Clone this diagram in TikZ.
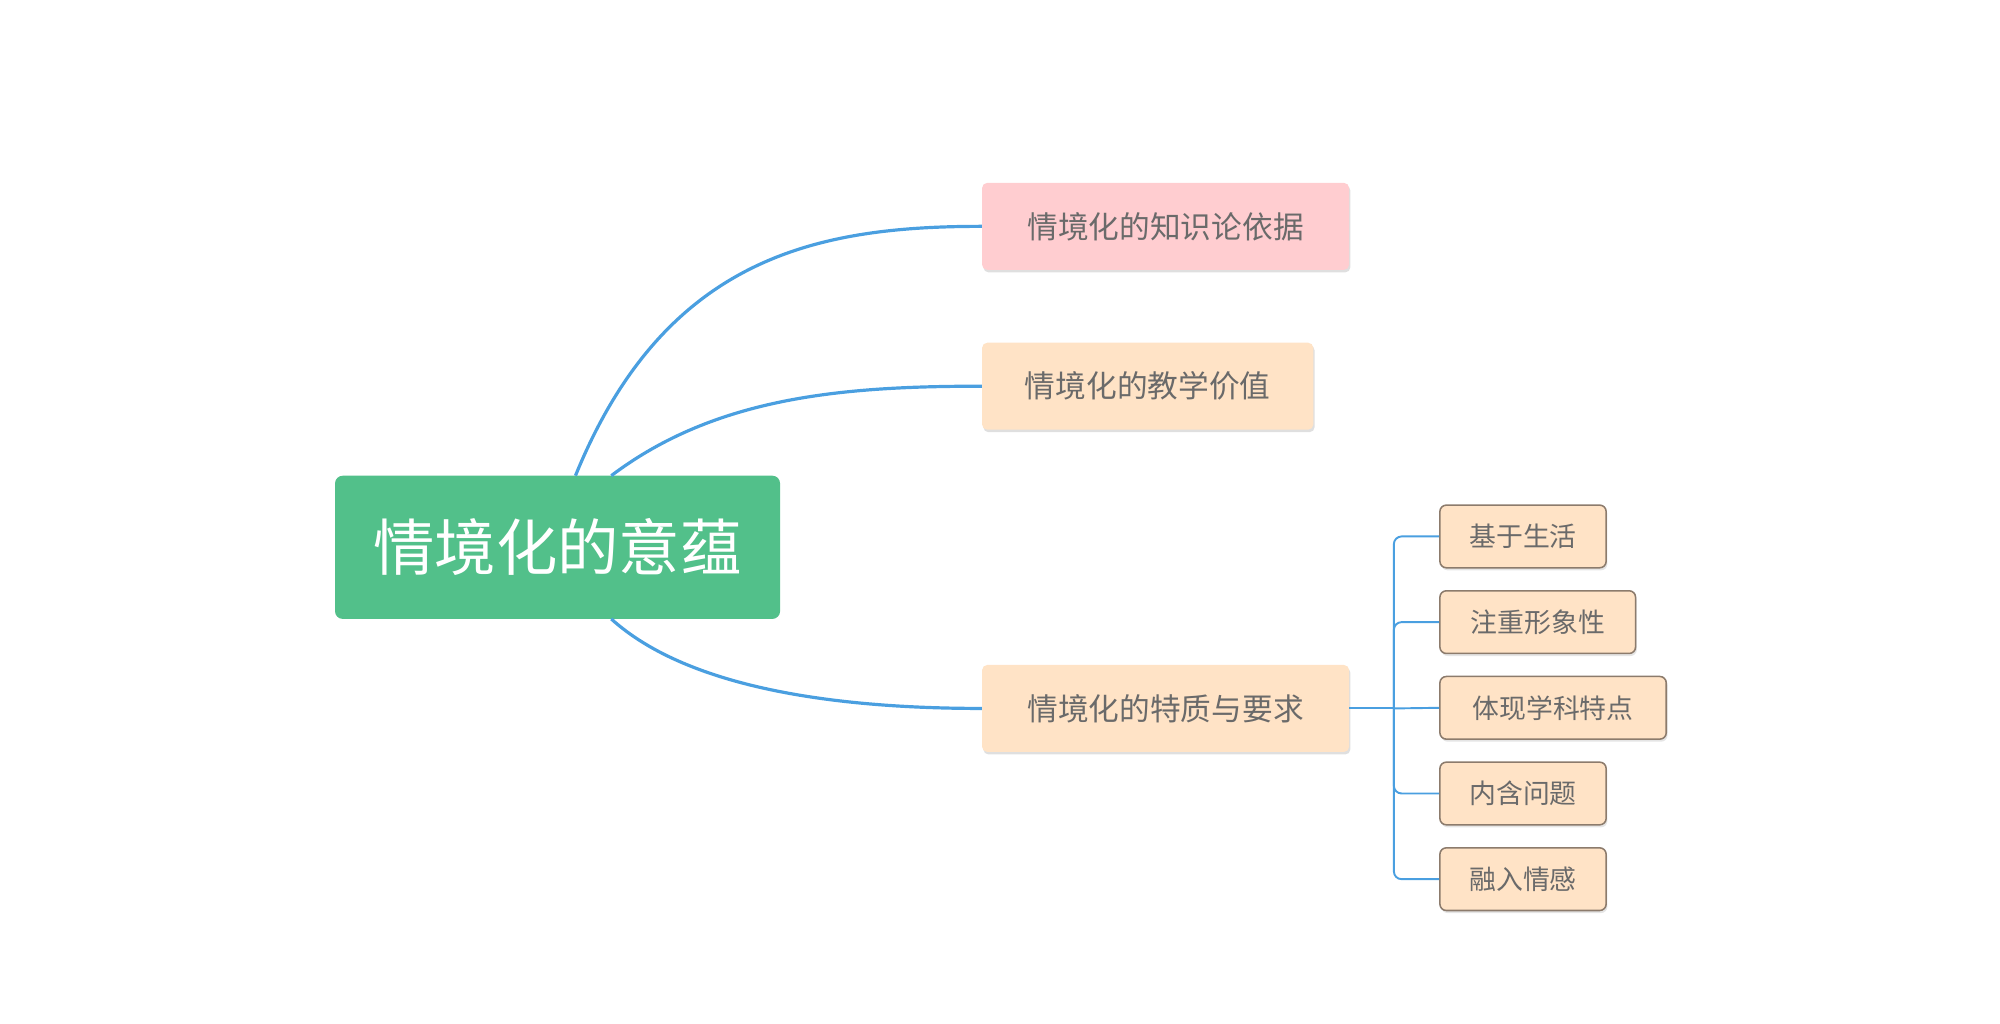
\documentclass[tikz,border=0pt]{standalone}
\usepackage{fontspec}
\setmainfont{Noto Sans CJK SC}
\usetikzlibrary{shadows}
\definecolor{rootg}{HTML}{52C08A}
\definecolor{pinkf}{HTML}{FFCDD0}
\definecolor{peach}{HTML}{FFE3C6}
\definecolor{txt}{HTML}{6A6A6A}
\definecolor{lineb}{HTML}{4A9FE0}
\definecolor{cbord}{HTML}{8C7B6C}
\tikzset{
 mainbox/.style={rounded corners=4pt,minimum height=68pt,text=txt,font=\fontsize{24pt}{28pt}\selectfont,
   drop shadow={shadow xshift=1pt,shadow yshift=-2pt,fill=black!25}},
 kid/.style={draw=cbord,line width=1.2pt,fill=peach,rounded corners=5pt,minimum height=49pt,text=txt,
   font=\fontsize{21pt}{25pt}\selectfont,drop shadow={shadow xshift=1pt,shadow yshift=-2pt,fill=black!20}},
 conn/.style={draw=lineb,line width=2.5pt},
 kconn/.style={draw=lineb,line width=1.5pt,rounded corners=6pt}
}
\begin{document}
\begin{tikzpicture}[x=1pt,y=-1pt]
\useasboundingbox (0,0) rectangle (1564,800);
\node[fill=rootg,rounded corners=6pt,minimum width=348pt,minimum height=112pt,text=white,
  font=\fontsize{48pt}{54pt}\selectfont] (root) at (436,428) {情境化的意蕴};
\node[mainbox,fill=pinkf,minimum width=287pt] (n1) at (911.5,177) {情境化的知识论依据};
\node[mainbox,fill=peach,minimum width=259pt] (n2) at (897.5,302) {情境化的教学价值};
\node[mainbox,fill=peach,minimum width=287pt] (n3) at (911.5,554) {情境化的特质与要求};
\node[kid,minimum width=130pt] (c1) at (1191,419.5) {基于生活};
\node[kid,minimum width=153pt] (c2) at (1202.5,486.5) {注重形象性};
\node[kid,minimum width=177pt] (c3) at (1214.5,553.5) {体现学科特点};
\node[kid,minimum width=130pt] (c4) at (1191,620.5) {内含问题};
\node[kid,minimum width=130pt] (c5) at (1191,687.5) {融入情感};
\coordinate (r1) at (450,372);
\coordinate (r2) at (478,372);
\coordinate (r3) at (478,484);
\draw[conn] (r1) .. controls (520,200) and (640,177) .. (n1.west);
\draw[conn] (r2) .. controls (560,310) and (660,302) .. (n2.west);
\draw[conn] (r3) .. controls (540,540) and (660,554) .. (n3.west);
\coordinate (tr) at (1090,554);
\draw[kconn] (n3.east) -- (tr);
\draw[kconn] (c1.west) -| (tr);
\draw[kconn] (c2.west) -| (tr);
\draw[kconn] (c3.west) -- (tr);
\draw[kconn] (c4.west) -| (tr);
\draw[kconn] (c5.west) -| (tr);
\end{tikzpicture}
\end{document}
